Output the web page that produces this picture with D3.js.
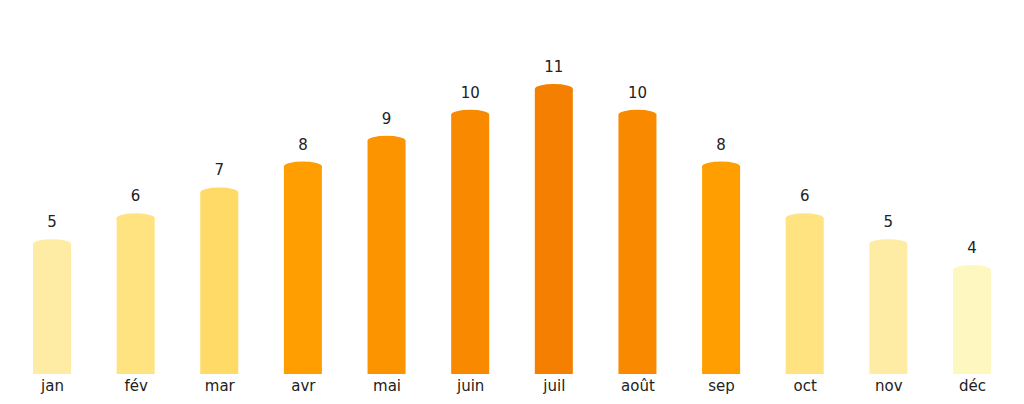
<!DOCTYPE html>
<html>
<head>
<meta charset="utf-8">
<script src="https://cdn.jsdelivr.net/npm/d3@7"></script>
<style>
  body { margin: 0; background: #fff; }
  text { font-family: "DejaVu Sans", sans-serif; fill: #222; }
</style>
</head>
<body>
<svg id="chart" width="1024" height="404"></svg>
<script>
// monthly values
let months = ['jan', 'fév', 'mar', 'avr', 'mai', 'juin', 'juil', 'août', 'sep', 'oct', 'nov', 'déc'];
let values = [5, 6, 7, 8, 9, 10, 11, 10, 8, 6, 5, 4];
let colors = ['#FFECA4', '#FFE380', '#FFDA66', '#FF9E00', '#FC9400', '#F98A00', '#F57F00', '#F98A00', '#FF9E00', '#FFE380', '#FFECA4', '#FFF7C0'];

let svg = d3.select('#chart');
let baseY = 374;
let barW = 38;
let capR = 5;

let x = d3.scalePoint()
  .domain(months)
  .range([52, 972]);

// top of the rounded cap
let y = d3.scaleLinear()
  .domain([0, 11])
  .range([368.4, 84]);

let data = months.map((m, i) => ({ month: m, value: values[i], color: colors[i] }));

let bars = svg.selectAll('g.bar')
  .data(data)
  .enter()
  .append('g')
  .attr('class', 'bar');

bars.append('rect')
  .attr('x', d => x(d.month) - barW / 2)
  .attr('y', d => y(d.value) + capR)
  .attr('width', barW)
  .attr('height', d => baseY - y(d.value) - capR)
  .attr('fill', d => d.color);

bars.append('ellipse')
  .attr('cx', d => x(d.month))
  .attr('cy', d => y(d.value) + capR)
  .attr('rx', barW / 2)
  .attr('ry', capR)
  .attr('fill', d => d.color);

bars.append('text')
  .attr('x', d => x(d.month))
  .attr('y', d => y(d.value) - 12)
  .attr('text-anchor', 'middle')
  .attr('font-size', 15)
  .text(d => d.value);

// month labels under the bars
let xAxis = d3.axisBottom(x).tickSize(0).tickPadding(6);
let axisG = svg.append('g')
  .attr('transform', `translate(0,${baseY})`)
  .call(xAxis);
axisG.select('.domain').remove();
axisG.selectAll('text')
  .attr('font-size', 15)
  .attr('font-family', '"DejaVu Sans", sans-serif')
  .attr('fill', '#222');
</script>
</body>
</html>
